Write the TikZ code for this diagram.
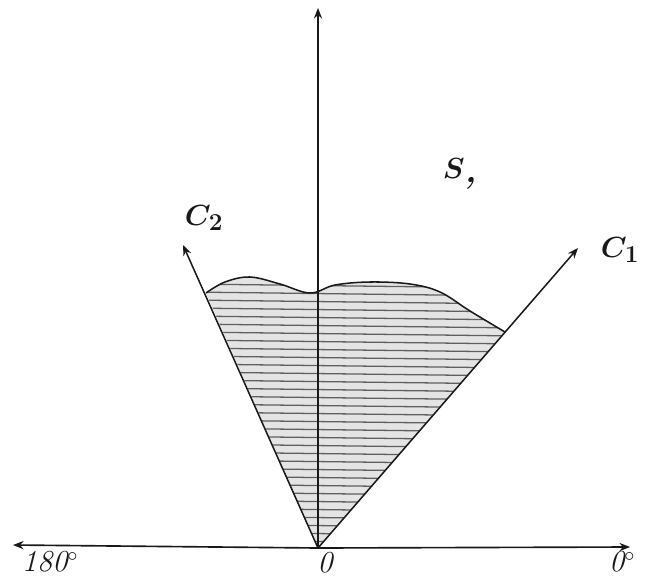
\documentclass[tikz,border=0pt]{standalone}
\usepackage{xcolor}
\usetikzlibrary{arrows.meta}
\definecolor{inkblack}{RGB}{25,25,25}
\definecolor{hatchgray}{RGB}{95,95,95}
\definecolor{shadegray}{RGB}{228,228,228}

\begin{document}
\begin{tikzpicture}[x=0.03cm, y=-0.03cm,
    axis/.style={draw=inkblack, line width=1.4pt, -{Stealth[length=9pt,width=7pt]}},
    ray/.style={draw=inkblack, line width=1.3pt, -{Stealth[length=9pt,width=7pt]}},
    lbl/.style={inkblack, inner sep=0pt, font=\fontsize{30}{32}\selectfont\boldmath\bfseries\itshape},
    numlbl/.style={inkblack, inner sep=0pt, font=\fontsize{26}{28}\selectfont\itshape}]
    \useasboundingbox (0,0) rectangle (645,578);

    % axes and rays
    \coordinate (O) at (318,548);
    \coordinate (east) at (630,547);
    \coordinate (west) at (13,545);
    \coordinate (north) at (318,8);
    \coordinate (c1end) at (578,248);
    \coordinate (c2end) at (183,245);
    \coordinate (c2cut) at (206,293);

    % shaded region
    \path[fill=shadegray] (O) -- (c2cut)
        -- plot[smooth, tension=0.6] coordinates {(206,293) (225,282) (250,277) (280,284) (310,293) (335,285) (370,282) (410,284) (440,292) (470,311) (505,332)}
        -- cycle;
    \begin{scope}
        \clip (O) -- (c2cut)
            -- plot[smooth, tension=0.6] coordinates {(206,293) (225,282) (250,277) (280,284) (310,293) (335,285) (370,282) (410,284) (440,292) (470,311) (505,332)}
            -- cycle;
        \foreach \y in {284,292,...,550}
            \draw[hatchgray, line width=1.1pt] (190,\y) -- (520,\y+4);
    \end{scope}
    \draw[inkblack, line width=1.3pt]
        plot[smooth, tension=0.6] coordinates {(206,293) (225,282) (250,277) (280,284) (310,293) (335,285) (370,282) (410,284) (440,292) (470,311) (505,332)};

    \draw[axis] (O) -- (east);
    \draw[axis] (O) -- (west);
    \draw[axis] (O) -- (north);
    \draw[ray] (O) -- (c1end);
    \draw[ray] (O) -- (c2end);

    % labels
    \node[lbl] (c1lbl) at (620,250) {$C_{1}$};
    \node[lbl] (c2lbl) at (204,218) {$C_{2}$};
    \node[lbl] (slbl) at (460,174) {$S$\raisebox{-0.1em}{,}};
    \node[numlbl] (olbl) at (325,563) {0};
    \node[numlbl] (wlbl) at (50,562) {180$^{\circ}$};
    \node[numlbl] (elbl) at (622,562) {0$^{\circ}$};
\end{tikzpicture}
\end{document}
